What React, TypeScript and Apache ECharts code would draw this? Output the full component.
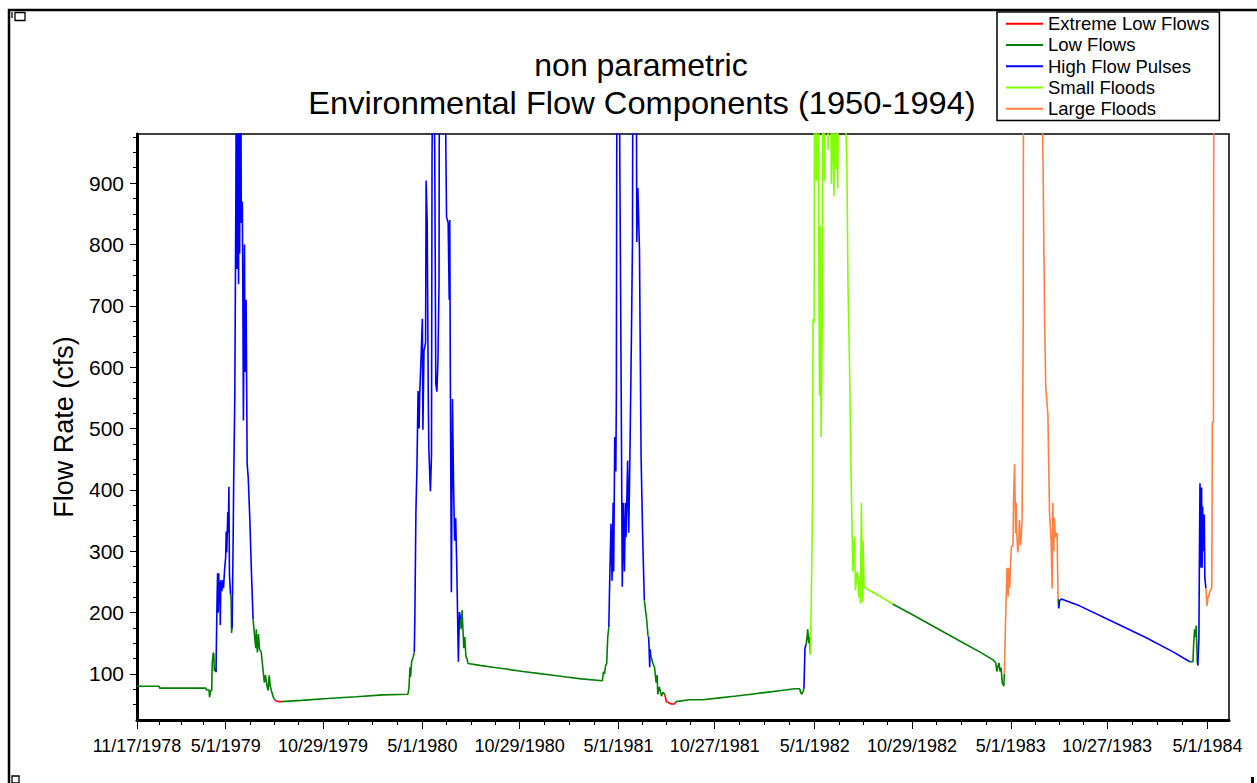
import React, { useEffect, useRef } from "react";
import * as echarts from "echarts";

// ---------- data ----------
const START_DATE = "11/17/1978";
const X_MAX_DAYS = 2032;

const tickLabels = [
  "11/17/1978", "5/1/1979", "10/29/1979", "5/1/1980", "10/29/1980", "5/1/1981",
  "10/27/1981", "5/1/1982", "10/29/1982", "5/1/1983", "10/27/1983", "5/1/1984",
];
const yTickValues = [100, 200, 300, 400, 500, 600, 700, 800, 900];

const componentNames = ["Extreme Low Flows", "Low Flows", "High Flow Pulses", "Small Floods", "Large Floods"];
const componentCodes = ["E", "L", "H", "S", "F"];
const componentColors = ["#ff0000", "#008000", "#0000ff", "#80ff00", "#ff8040"];

// days since START_DATE
const dayOffsets = [
  0, 41, 42, 128, 129, 134, 135, 136, 137, 139, 140, 142, 143, 144, 146, 147,
  149, 150, 151, 152, 153, 154, 155, 156, 158, 160, 161, 163, 165, 166, 167, 169, 170, 171, 172, 174,
  175, 176, 177,
  179, 180, 182, 184, 185, 186, 187, 189, 190, 191, 193, 194, 196, 197, 198, 200, 201, 203, 205, 207, 210, 213, 216,
  217, 219, 221, 222, 224, 226, 228, 231, 234, 237, 239, 242, 244, 246, 248, 250, 253, 256,
  259, 264, 269,
  270, 306, 355, 408, 458, 504, 506, 508, 509, 511, 514, 516,
  517, 519, 521, 523, 525, 526, 529, 531, 532, 534, 537, 538, 540, 542, 543, 545, 546, 548, 549, 551, 554, 556,
  558, 560, 562, 563, 566, 569, 572, 576, 579, 581, 582, 583, 585, 587, 589, 591, 593, 595, 598, 600, 602,
  603, 605, 608, 610, 612, 614, 616, 638, 662, 687, 718, 746, 774, 799, 827, 866, 867, 868, 870, 872, 874, 876, 878,
  879, 882, 884, 886, 887, 889, 891, 892, 893, 895, 897, 899, 901, 903, 905, 907, 909, 910, 913, 915, 917, 920,
  922, 923, 926, 929, 930, 932, 935, 938, 941, 944,
  945, 948, 951, 952,
  953, 954, 955,
  956, 960, 963, 966, 968, 969, 972, 976, 979, 982,
  985, 994, 1000, 1003,
  1004, 1028, 1053, 1084, 1115, 1143, 1171, 1199, 1224, 1233, 1235, 1237, 1240, 1241,
  1243, 1245,
  1247, 1248, 1250, 1252, 1253,
  1255, 1257, 1258, 1260, 1261, 1263, 1264, 1266, 1267, 1269, 1270, 1271, 1273, 1275, 1276, 1278, 1279, 1281,
  1284, 1286, 1288, 1290, 1292, 1294, 1295, 1297, 1299, 1301, 1303, 1304, 1306, 1310, 1315, 1317, 1320, 1321,
  1323, 1326, 1329, 1332, 1334, 1335, 1337, 1340, 1342, 1343, 1345, 1346, 1348, 1350, 1351, 1353, 1355, 1380, 1406,
  1444, 1475, 1506, 1537, 1568, 1593, 1598, 1600, 1602, 1604, 1606, 1608, 1610, 1613, 1614,
  1616, 1619, 1621, 1622, 1624, 1625, 1627, 1630, 1631, 1633, 1635, 1636, 1637, 1639, 1641, 1642, 1644, 1645,
  1647, 1649, 1650, 1660, 1670, 1680, 1686, 1689, 1691, 1692, 1695, 1698, 1701, 1703, 1704, 1706, 1707, 1709,
  1712, 1714,
  1715,
  1717, 1720, 1754, 1816, 1878, 1928, 1959,
  1965, 1966, 1968, 1970, 1971, 1973, 1974,
  1976, 1977, 1978, 1980, 1981, 1982, 1983, 1984, 1986, 1987, 1989,
  1991, 1993, 1995, 1997, 2000, 2001, 2003, 2004, 2032,
];

// flow rate (cfs)
const flowCfs = [
  80, 80, 77, 77, 74, 74, 62, 62, 73, 73, 118, 135, 132, 105, 110, 103,
  223, 264, 200, 264, 215, 250, 180, 253, 235, 253, 240, 270, 290, 332, 298, 364, 330, 405, 264, 230,
  226, 167, 175,
  326, 420, 551, 888, 1200, 760, 1100, 735, 1150, 785, 1200, 835, 870, 713, 513, 800, 592, 710, 442, 420, 351, 264, 189,
  189, 160, 142, 173, 135, 165, 140, 136, 111, 86, 98, 80, 73, 98, 80, 73, 64, 58,
  56, 55, 55,
  55, 57, 60, 63, 66, 67, 76, 111, 95, 120, 128, 135,
  189, 364, 439, 561, 500, 554, 626, 679, 498, 626, 640, 904, 835, 554, 470, 420, 398, 457, 942, 1200, 954, 573,
  560, 610, 735, 1300, 1200, 1300, 1200, 845, 835, 710, 840, 601, 233, 548, 411, 317, 354, 276, 120, 201, 190,
  173, 204, 142, 160, 129, 125, 117, 114, 111, 108, 104, 101, 98, 95, 92, 89, 89, 104, 100, 114, 117, 161, 176,
  226, 345, 252, 379, 267, 486, 430, 551, 1100, 1300, 1150, 854, 560, 242, 379, 267, 379, 323, 448, 330, 438, 648,
  804, 1200, 1300, 1150, 804, 892, 792, 454, 323, 220,
  220, 192, 161, 161,
  140, 111, 140,
  130, 117, 111, 86, 98, 67, 79, 64, 70, 67,
  55, 51, 51, 55,
  55, 58, 58, 61, 64, 67, 70, 73, 76, 76, 70, 67, 73, 76,
  142, 148,
  161, 173, 150, 161, 132,
  239, 379, 679, 673, 1200, 1300, 904, 1200, 1300, 735, 554, 830, 486, 673, 1200, 1100, 904, 1200,
  1300, 954, 1200, 1300, 898, 1200, 948, 879, 1200, 923, 1100, 892, 1200, 1300, 1200, 1100, 960, 929,
  735, 598, 411, 267, 300, 323, 236, 267, 254, 225, 254, 215, 379, 217, 317, 242, 240, 228, 214,
  196, 181, 166, 151, 136, 123, 118, 104, 112, 118, 104, 110, 86, 80, 100,
  179, 273, 226, 273, 240, 267, 307, 310, 379, 442, 329, 379, 330, 298, 320, 351, 310, 320,
  351, 660, 1400, 1800, 1600, 1300, 932, 667, 570, 557, 523, 364, 314, 239, 379, 300, 354, 323,
  330, 223,
  207,
  220, 222, 211, 185, 159, 136, 120,
  120, 145, 173, 160, 179, 120, 114,
  157, 300, 411, 273, 404, 273, 373, 300, 360, 257, 240,
  211, 225, 229, 236, 240, 510, 510, 1300, 1500,
];

// environmental flow component of each day (E/L/H/S/F)
const componentCode = [
  "L", "L", "L", "L", "L", "L", "L", "L", "L", "L", "L", "L", "L", "L", "L", "L",
  "H", "H", "H", "H", "H", "H", "H", "H", "H", "H", "H", "H", "H", "H", "H", "H", "H", "H", "H", "H",
  "L", "L", "L",
  "H", "H", "H", "H", "H", "H", "H", "H", "H", "H", "H", "H", "H", "H", "H", "H", "H", "H", "H", "H", "H", "H", "H",
  "L", "L", "L", "L", "L", "L", "L", "L", "L", "L", "L", "L", "L", "L", "L", "L", "L", "L",
  "E", "E", "E",
  "L", "L", "L", "L", "L", "L", "L", "L", "L", "L", "L", "L",
  "H", "H", "H", "H", "H", "H", "H", "H", "H", "H", "H", "H", "H", "H", "H", "H", "H", "H", "H", "H", "H", "H",
  "H", "H", "H", "H", "H", "H", "H", "H", "H", "H", "H", "H", "H", "H", "H", "H", "H", "H", "H", "H", "H",
  "L", "L", "L", "L", "L", "L", "L", "L", "L", "L", "L", "L", "L", "L", "L", "L", "L", "L", "L", "L", "L", "L", "L",
  "H", "H", "H", "H", "H", "H", "H", "H", "H", "H", "H", "H", "H", "H", "H", "H", "H", "H", "H", "H", "H", "H",
  "H", "H", "H", "H", "H", "H", "H", "H", "H", "H",
  "L", "L", "L", "L",
  "H", "H", "H",
  "L", "L", "L", "L", "L", "L", "L", "L", "L", "L",
  "E", "E", "E", "E",
  "L", "L", "L", "L", "L", "L", "L", "L", "L", "L", "L", "L", "L", "L",
  "H", "H",
  "L", "L", "L", "L", "L",
  "S", "S", "S", "S", "S", "S", "S", "S", "S", "S", "S", "S", "S", "S", "S", "S", "S", "S",
  "S", "S", "S", "S", "S", "S", "S", "S", "S", "S", "S", "S", "S", "S", "S", "S", "S", "S",
  "S", "S", "S", "S", "S", "S", "S", "S", "S", "S", "S", "S", "S", "S", "S", "S", "S", "S", "S",
  "L", "L", "L", "L", "L", "L", "L", "L", "L", "L", "L", "L", "L", "L", "L",
  "F", "F", "F", "F", "F", "F", "F", "F", "F", "F", "F", "F", "F", "F", "F", "F", "F", "F",
  "F", "F", "F", "F", "F", "F", "F", "F", "F", "F", "F", "F", "F", "F", "F", "F", "F", "F",
  "F", "F",
  "L",
  "H", "H", "H", "H", "H", "H", "H",
  "L", "L", "L", "L", "L", "L", "L",
  "H", "H", "H", "H", "H", "H", "H", "H", "H", "H", "H",
  "F", "F", "F", "F", "F", "F", "F", "F", "F",
];

// ---------- helpers ----------
const FONT = '"Liberation Sans", Arial, "Helvetica", sans-serif';

function dayOf(s: string): number {
  const [m, d, y] = s.split("/").map(Number);
  const [m0, d0, y0] = START_DATE.split("/").map(Number);
  return Math.round((Date.UTC(y, m - 1, d) - Date.UTC(y0, m0 - 1, d0)) / 86400000);
}

const tickDays = tickLabels.map(dayOf);
const minorTickDays: number[] = [];
for (let i = 0; i + 1 < tickDays.length; i++) {
  const a = tickDays[i];
  const b = tickDays[i + 1];
  for (let k = 1; k < 4; k++) minorTickDays.push(a + ((b - a) * k) / 4);
}
const yMinorTicks: number[] = [];
for (let v = 50; v < 980; v += 25) if (v % 100 !== 0) yMinorTicks.push(v);

function buildComponentData(code: string): any[] {
  const out: any[] = [];
  let open = false;
  const n = Math.min(dayOffsets.length, flowCfs.length, componentCode.length);
  for (let i = 1; i < n; i++) {
    if (componentCode[i] === code) {
      if (!open) out.push([dayOffsets[i - 1], flowCfs[i - 1]]);
      out.push([dayOffsets[i], flowCfs[i]]);
      open = true;
    } else if (open) {
      out.push([dayOffsets[i], "-"]);
      open = false;
    }
  }
  return out;
}

export default function App() {
  const ref = useRef<HTMLDivElement>(null);
  useEffect(() => {
    if (!ref.current) return;
    const chart = echarts.init(ref.current, undefined, { renderer: "svg" });
    const series = componentCodes.map((code, i) => ({
      name: componentNames[i],
      type: "line",
      data: buildComponentData(code),
      showSymbol: false,
      symbol: "none",
      connectNulls: false,
      lineStyle: { color: componentColors[i], width: 1.6 },
      itemStyle: { color: componentColors[i] },
      xAxisIndex: 0,
      yAxisIndex: 0,
      clip: true,
      z: 2,
    }));
    chart.setOption({
      animation: false,
      backgroundColor: "#ffffff",
      textStyle: { fontFamily: FONT },
      grid: {
        left: 137,
        right: 28,
        top: 134,
        bottom: 63,
        show: true,
        borderColor: "#000",
        borderWidth: 1.5,
        backgroundColor: "transparent",
        containLabel: false,
        outerBoundsMode: "none",
      },
      legend: {
        orient: "vertical",
        left: 997,
        top: 12,
        padding: [1, 10, 1, 9],
        itemWidth: 37,
        itemHeight: 2,
        itemGap: 0,
        itemTextGap: 10,
        icon: "rect",
        selectedMode: false,
        backgroundColor: "#fff",
        borderColor: "#000",
        borderWidth: 1.5,
        textStyle: { fontSize: 18.5, fontFamily: FONT, color: "#000", lineHeight: 21.3 },
        data: componentNames,
      },
      xAxis: [
        {
          type: "value",
          min: 0,
          max: X_MAX_DAYS,
          position: "bottom",
          axisLine: { show: true, onZero: false, lineStyle: { color: "#000", width: 3 } },
          axisTick: { show: true, customValues: tickDays, length: 9, lineStyle: { color: "#000", width: 1 } },
          axisLabel: {
            show: true,
            customValues: tickDays,
            margin: 17,
            fontSize: 18,
            fontFamily: FONT,
            color: "#000",
            formatter: (v: number) => {
              const idx = tickDays.findIndex((t) => Math.abs(t - v) < 0.5);
              return idx >= 0 ? tickLabels[idx] : "";
            },
          },
          splitLine: { show: false },
        },
        {
          type: "value",
          min: 0,
          max: X_MAX_DAYS,
          position: "bottom",
          axisLine: { show: false, onZero: false },
          axisTick: { show: true, customValues: minorTickDays, length: 5, lineStyle: { color: "#000", width: 1 } },
          axisLabel: { show: false },
          splitLine: { show: false },
        },
      ],
      yAxis: [
        {
          type: "value",
          min: 25,
          max: 980,
          position: "left",
          name: "Flow Rate (cfs)",
          nameLocation: "middle",
          nameRotate: 90,
          nameGap: 60,
          nameTextStyle: { fontSize: 27, fontFamily: FONT, color: "#000" },
          axisLine: { show: true, onZero: false, lineStyle: { color: "#000", width: 3 } },
          axisTick: { show: true, customValues: yTickValues, length: 7, lineStyle: { color: "#000", width: 1 } },
          axisLabel: { show: true, customValues: yTickValues, margin: 13, fontSize: 21, fontFamily: FONT, color: "#000" },
          splitLine: { show: false },
        },
        {
          type: "value",
          min: 25,
          max: 980,
          position: "left",
          axisLine: { show: false, onZero: false },
          axisTick: { show: true, customValues: yMinorTicks, length: 4, lineStyle: { color: "#000", width: 1 } },
          axisLabel: { show: false },
          splitLine: { show: false },
        },
      ],
      graphic: [
        {
          type: "rect",
          silent: true,
          shape: { x: 9, y: 10, width: 1262, height: 800 },
          style: { fill: "none", stroke: "#000", lineWidth: 2.5 },
          z: 0,
        },
        {
          type: "rect",
          silent: true,
          shape: { x: 15, y: 12.5, width: 10, height: 8 },
          style: { fill: "#fff", stroke: "#000", lineWidth: 1.3 },
        },
        {
          type: "line",
          silent: true,
          shape: { x1: 12, y1: 12, x2: 12, y2: 18 },
          style: { stroke: "#000", lineWidth: 1.3 },
        },
        {
          type: "rect",
          silent: true,
          shape: { x: 12, y: 776, width: 7, height: 7 },
          style: { fill: "#fff", stroke: "#000", lineWidth: 1.3 },
        },
        {
          type: "rect",
          silent: true,
          shape: { x: 1251, y: 777, width: 3, height: 6 },
          style: { fill: "#000", stroke: "none" },
        },
        {
          type: "text",
          silent: true,
          x: 641,
          y: 65,
          style: {
            text: "non parametric",
            font: `32px ${FONT}`,
            fill: "#000",
            align: "center",
            verticalAlign: "middle",
            textAlign: "center",
            textVerticalAlign: "middle",
          },
        },
        {
          type: "text",
          silent: true,
          x: 642,
          y: 103,
          scaleX: 1.02,
          style: {
            text: "Environmental Flow Components (1950-1994)",
            font: `32px ${FONT}`,
            fill: "#000",
            align: "center",
            verticalAlign: "middle",
            textAlign: "center",
            textVerticalAlign: "middle",
          },
        },
      ],
      series,
    });
    return () => chart.dispose();
  }, []);
  return (
    <div
      ref={ref}
      style={{ position: "absolute", left: 0, top: 0, width: 1257, height: 783, background: "#fff" }}
    />
  );
}
